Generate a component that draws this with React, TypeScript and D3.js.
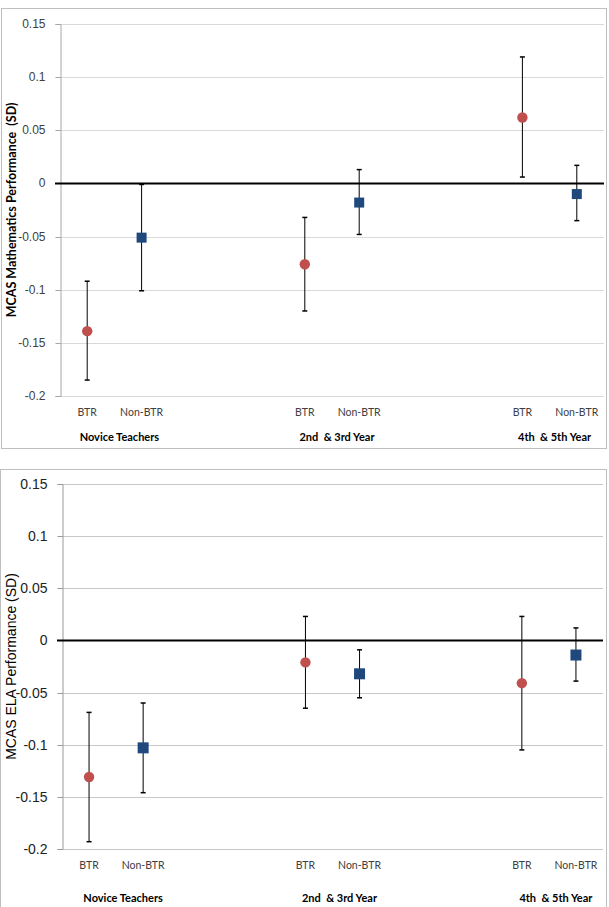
import React, { useEffect, useRef } from "react";
import * as d3 from "d3";

// x slots: 10 category positions, only six carry points
const xLabels = ["BTR", "Non-BTR", "", "", "BTR", "Non-BTR", "", "", "BTR", "Non-BTR"];
const pointSlots = [0, 1, 4, 5, 8, 9];
const pointKind = ["BTR", "Non-BTR", "BTR", "Non-BTR", "BTR", "Non-BTR"];
const groupLabels = ["Novice Teachers", "2nd  & 3rd Year", "4th  & 5th Year"];
const groupSlots = [
	[0, 1],
	[4, 5],
	[8, 9],
];
const yTicks = [0.15, 0.1, 0.05, 0, -0.05, -0.1, -0.15, -0.2];

// mathematics panel
const mathMean = [-0.139, -0.051, -0.076, -0.018, 0.062, -0.01];
const mathLow = [-0.185, -0.101, -0.12, -0.048, 0.006, -0.035];
const mathHigh = [-0.092, -0.001, -0.032, 0.013, 0.119, 0.017];

// ELA panel
const elaMean = [-0.131, -0.103, -0.021, -0.032, -0.041, -0.014];
const elaLow = [-0.193, -0.146, -0.065, -0.055, -0.105, -0.039];
const elaHigh = [-0.069, -0.06, 0.023, -0.009, 0.023, 0.012];

interface PanelOpts {
	box: { x: number; y: number; w: number; h: number };
	left: number;
	right: number;
	top: number;
	bottom: number;
	mean: number[];
	low: number[];
	high: number[];
	yTitle: string;
	titleFont: string;
	titleWeight: string;
	titleSize: number;
	titleX: number;
	tickFont: string;
	tickSize: number;
	tickColor: string;
	gridColor: string;
	axisColor: string;
	catY: number;
	groupY: number;
	groupDx: number;
	square: number;
}

const drawPanel = (svg: d3.Selection<SVGSVGElement, unknown, null, undefined>, o: PanelOpts) => {
	const g = svg.append("g");

	g.append("rect")
		.attr("x", o.box.x + 0.5)
		.attr("y", o.box.y + 0.5)
		.attr("width", o.box.w)
		.attr("height", o.box.h)
		.attr("fill", "#fff")
		.attr("stroke", "#bfbfbf");

	const x = d3.scaleBand<number>().domain(d3.range(xLabels.length)).range([o.left, o.right]);
	const y = d3.scaleLinear().domain([-0.2, 0.15]).range([o.bottom, o.top]);
	const cx = (i: number) => (x(i) || 0) + x.bandwidth() / 2;

	// gridlines
	g.selectAll("line.grid")
		.data(yTicks)
		.enter()
		.append("line")
		.attr("class", "grid")
		.attr("x1", o.left)
		.attr("x2", o.right)
		.attr("y1", (d) => Math.round(y(d)) + 0.5)
		.attr("y2", (d) => Math.round(y(d)) + 0.5)
		.attr("stroke", o.gridColor);

	// y axis
	const yAxis = g
		.append("g")
		.attr("transform", `translate(${o.left + 0.5},0)`)
		.call(
			d3
				.axisLeft(y)
				.tickValues(yTicks)
				.tickSize(5)
				.tickPadding(10)
				.tickFormat((d) => String(d))
		);
	yAxis.select(".domain").attr("stroke", o.axisColor);
	yAxis.selectAll(".tick line").attr("stroke", o.axisColor);
	yAxis
		.selectAll(".tick text")
		.attr("fill", o.tickColor)
		.style("font-family", o.tickFont)
		.style("font-size", `${o.tickSize}px`);
	yAxis.selectAll(".tick").attr("transform", (d: any) => `translate(0,${Math.round(y(d)) + 0.5})`);

	// zero line
	g.append("line")
		.attr("x1", o.left - 5)
		.attr("x2", o.right)
		.attr("y1", Math.round(y(0)) + 0.5)
		.attr("y2", Math.round(y(0)) + 0.5)
		.attr("stroke", "#000")
		.attr("stroke-width", 2);

	// y title
	g.append("text")
		.attr("transform", `translate(${o.titleX},${(o.top + o.bottom) / 2}) rotate(-90)`)
		.attr("text-anchor", "middle")
		.attr("dominant-baseline", "central")
		.style("font-family", o.titleFont)
		.style("font-weight", o.titleWeight)
		.style("font-size", `${o.titleSize}px`)
		.style("white-space", "pre")
		.attr("fill", "#000")
		.text(o.yTitle);

	// category labels
	g.selectAll("text.cat")
		.data(xLabels.map((l, i) => ({ l, i })).filter((d) => d.l))
		.enter()
		.append("text")
		.attr("class", "cat")
		.attr("x", (d) => cx(d.i))
		.attr("y", o.catY)
		.attr("text-anchor", "middle")
		.style("font-family", "Lato, sans-serif")
		.style("font-size", "10.5px")
		.attr("fill", "#404040")
		.text((d) => d.l);

	// group labels
	g.selectAll("text.group")
		.data(groupLabels)
		.enter()
		.append("text")
		.attr("class", "group")
		.attr("x", (_, i) => (cx(groupSlots[i][0]) + cx(groupSlots[i][1])) / 2 + o.groupDx)
		.attr("y", o.groupY)
		.attr("text-anchor", "middle")
		.style("font-family", "Lato, sans-serif")
		.style("font-weight", "bold")
		.style("font-size", "11px")
		.style("white-space", "pre")
		.attr("fill", "#000")
		.text((d) => d);

	// error bars
	const bars = g
		.selectAll("g.err")
		.data(pointSlots.map((s, i) => ({ s, i })))
		.enter()
		.append("g")
		.attr("class", "err")
		.attr("stroke", "#000");
	bars.append("line")
		.attr("x1", (d) => cx(d.s))
		.attr("x2", (d) => cx(d.s))
		.attr("y1", (d) => y(o.low[d.i]))
		.attr("y2", (d) => y(o.high[d.i]));
	[o.low, o.high].forEach((arr) => {
		bars.append("line")
			.attr("x1", (d) => cx(d.s) - 2.5)
			.attr("x2", (d) => cx(d.s) + 2.5)
			.attr("y1", (d) => y(arr[d.i]))
			.attr("y2", (d) => y(arr[d.i]))
			.attr("stroke-width", 1.5);
	});

	// markers
	const pts = pointSlots.map((s, i) => ({ s, i, kind: pointKind[i] }));
	g.selectAll("circle.btr")
		.data(pts.filter((d) => d.kind === "BTR"))
		.enter()
		.append("circle")
		.attr("class", "btr")
		.attr("cx", (d) => cx(d.s))
		.attr("cy", (d) => y(o.mean[d.i]))
		.attr("r", 5.2)
		.attr("fill", "#C0504D");
	g.selectAll("rect.non")
		.data(pts.filter((d) => d.kind !== "BTR"))
		.enter()
		.append("rect")
		.attr("class", "non")
		.attr("x", (d) => cx(d.s) - o.square / 2)
		.attr("y", (d) => y(o.mean[d.i]) - o.square / 2)
		.attr("width", o.square)
		.attr("height", o.square)
		.attr("fill", "#1F497D");
};

const App: React.FC = () => {
	const ref = useRef<SVGSVGElement>(null);

	useEffect(() => {
		if (!ref.current) return;
		document.body.style.margin = "0";
		const svg = d3.select(ref.current);
		svg.selectAll("*").remove();

		drawPanel(svg, {
			box: { x: 1, y: 8, w: 605, h: 440 },
			left: 60,
			right: 604,
			top: 24,
			bottom: 396,
			mean: mathMean,
			low: mathLow,
			high: mathHigh,
			yTitle: "MCAS Mathematics Performance  (SD)",
			titleFont: "Lato, sans-serif",
			titleWeight: "bold",
			titleSize: 12.5,
			titleX: 11,
			tickFont: "'Liberation Sans', Arial, sans-serif",
			tickSize: 12,
			tickColor: "#404040",
			gridColor: "#d9d9d9",
			axisColor: "#a6a6a6",
			catY: 416,
			groupY: 441,
			groupDx: 5,
			square: 10,
		});

		drawPanel(svg, {
			box: { x: 0, y: 469, w: 606, h: 460 },
			left: 62,
			right: 603,
			top: 484,
			bottom: 849,
			mean: elaMean,
			low: elaLow,
			high: elaHigh,
			yTitle: "MCAS ELA Performance (SD)",
			titleFont: "'Liberation Sans', Arial, sans-serif",
			titleWeight: "normal",
			titleSize: 14,
			titleX: 11,
			tickFont: "'Liberation Sans', Arial, sans-serif",
			tickSize: 14,
			tickColor: "#222",
			gridColor: "#c8c8c8",
			axisColor: "#999",
			catY: 869,
			groupY: 902,
			groupDx: 7,
			square: 11,
		});
	}, []);

	return <svg ref={ref} width={609} height={907} style={{ display: "block" }} />;
};

export default App;
